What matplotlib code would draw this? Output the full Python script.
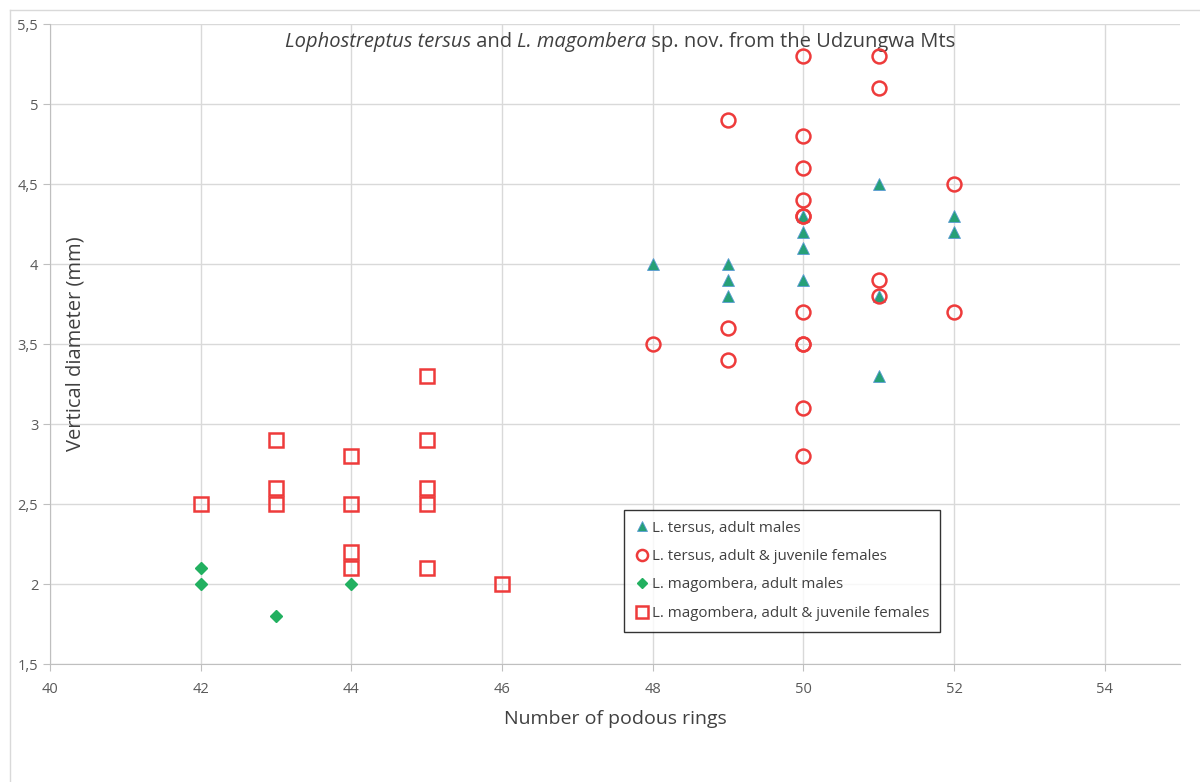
import matplotlib.pyplot as plt
from matplotlib.lines import Line2D

plt.rcParams['font.family'] = ['Open Sans', 'DejaVu Sans']

# L. tersus, adult males
tm_x = [48, 49, 49, 49, 50, 50, 50, 50, 51, 51, 51, 52, 52]
tm_y = [4.0, 4.0, 3.9, 3.8, 4.3, 4.2, 4.1, 3.9, 4.5, 3.8, 3.3, 4.3, 4.2]

# L. tersus, adult & juvenile females
tf_x = [48, 49, 49, 49, 50, 50, 50, 50, 50, 50, 50, 50, 50, 50, 50, 51, 51, 51, 51, 52, 52]
tf_y = [3.5, 4.9, 3.6, 3.4, 5.3, 4.8, 4.6, 4.4, 4.3, 4.3, 3.7, 3.5, 3.5, 3.1, 2.8,
        5.3, 5.1, 3.9, 3.8, 4.5, 3.7]

# L. magombera, adult males
mm_x = [42, 42, 43, 44]
mm_y = [2.1, 2.0, 1.8, 2.0]

# L. magombera, adult & juvenile females
mf_x = [42, 43, 43, 43, 44, 44, 44, 44, 45, 45, 45, 45, 45, 46]
mf_y = [2.5, 2.9, 2.6, 2.5, 2.8, 2.5, 2.2, 2.1, 3.3, 2.9, 2.6, 2.5, 2.1, 2.0]

x_ticks = [40, 42, 44, 46, 48, 50, 52, 54]
y_ticks = [1.5, 2, 2.5, 3, 3.5, 4, 4.5, 5, 5.5]
y_labels = ['1,5', '2', '2,5', '3', '3,5', '4', '4,5', '5', '5,5']

# title pieces: (text, italic?)
title_parts = [('Lophostreptus tersus', True), (' and ', False), ('L. magombera', True),
               (' sp. nov. from the Udzungwa Mts', False)]

fig = plt.figure(figsize=(12, 7.82), dpi=100)
ax = fig.add_axes([50 / 1200, 1 - 664 / 782, 1130 / 1200, 640 / 782])

# chart border (Excel style)
fig.add_artist(Line2D([10 / 1200, 10 / 1200], [0, 1 - 10 / 782], color='#d9d9d9', lw=1))
fig.add_artist(Line2D([10 / 1200, 1], [1 - 10 / 782, 1 - 10 / 782], color='#d9d9d9', lw=1))

red = '#ee3b3b'
ax.plot(tm_x, tm_y, linestyle='none', marker='^', markersize=9, markerfacecolor='#26a077',
        markeredgecolor='#5b9bd5', markeredgewidth=0.6, label='L. tersus, adult males', zorder=3)
ax.plot(tf_x, tf_y, linestyle='none', marker='o', markersize=10, markerfacecolor='none',
        markeredgecolor=red, markeredgewidth=1.8, label='L. tersus, adult & juvenile females', zorder=4)
ax.plot(mm_x, mm_y, linestyle='none', marker='D', markersize=6.5, markerfacecolor='#22b060',
        markeredgecolor='#22b060', label='L. magombera, adult males', zorder=3)
ax.plot(mf_x, mf_y, linestyle='none', marker='s', markersize=10, markerfacecolor='none',
        markeredgecolor=red, markeredgewidth=1.8, label='L. magombera, adult & juvenile females', zorder=4)

ax.set_xlim(40, 55)
ax.set_ylim(1.5, 5.5)
ax.set_xticks(x_ticks)
ax.set_yticks(y_ticks)
ax.set_yticklabels(y_labels)
ax.grid(True, color='#d9d9d9', linewidth=1)
ax.set_axisbelow(True)
for s in ['top', 'right']:
    ax.spines[s].set_visible(False)
for s in ['left', 'bottom']:
    ax.spines[s].set_color('#bfbfbf')
ax.tick_params(axis='both', colors='#bfbfbf', labelcolor='#595959', labelsize=10.5, length=5)
ax.tick_params(axis='x', pad=8)

ax.set_xlabel('Number of podous rings', fontsize=14, color='#404040', labelpad=9)
# y label sits inside the plot area, as in the original
ax.text(25 / 1130, 0.5, 'Vertical diameter (mm)', transform=ax.transAxes, rotation=90,
        ha='center', va='center', fontsize=14.5, color='#404040')

# mixed italic / upright title, pieces chained one after another
fig.canvas.draw()
r = fig.canvas.get_renderer()
pieces = []
prev = None
for txt, it in title_parts:
    style = 'italic' if it else 'normal'
    if prev is None:
        t = ax.text(0, 0.987, txt, transform=ax.transAxes, ha='left', va='top',
                    fontsize=14.5, color='#404040', style=style)
    else:
        t = ax.annotate(txt, xy=(1, 0), xycoords=prev, ha='left', va='bottom',
                        fontsize=14.5, color='#404040', style=style)
    pieces.append(t)
    prev = t
fig.canvas.draw()
total = sum(p.get_window_extent(r).width for p in pieces)
axbox = ax.get_window_extent(r)
x0 = (620 - total / 2 - axbox.x0) / axbox.width
pieces[0].set_x(x0)

leg = ax.legend(loc='upper left', bbox_to_anchor=(624 / 1200, 1 - 510 / 782),
                bbox_transform=fig.transFigure, borderaxespad=0, fontsize=10.8, frameon=True,
                fancybox=False, edgecolor='#000000', handletextpad=0.2, handlelength=1.0,
                markerscale=0.8, borderpad=0.7, labelspacing=0.9, labelcolor='#404040')
leg.get_frame().set_linewidth(1)

fig.savefig('out.png', dpi=100)
